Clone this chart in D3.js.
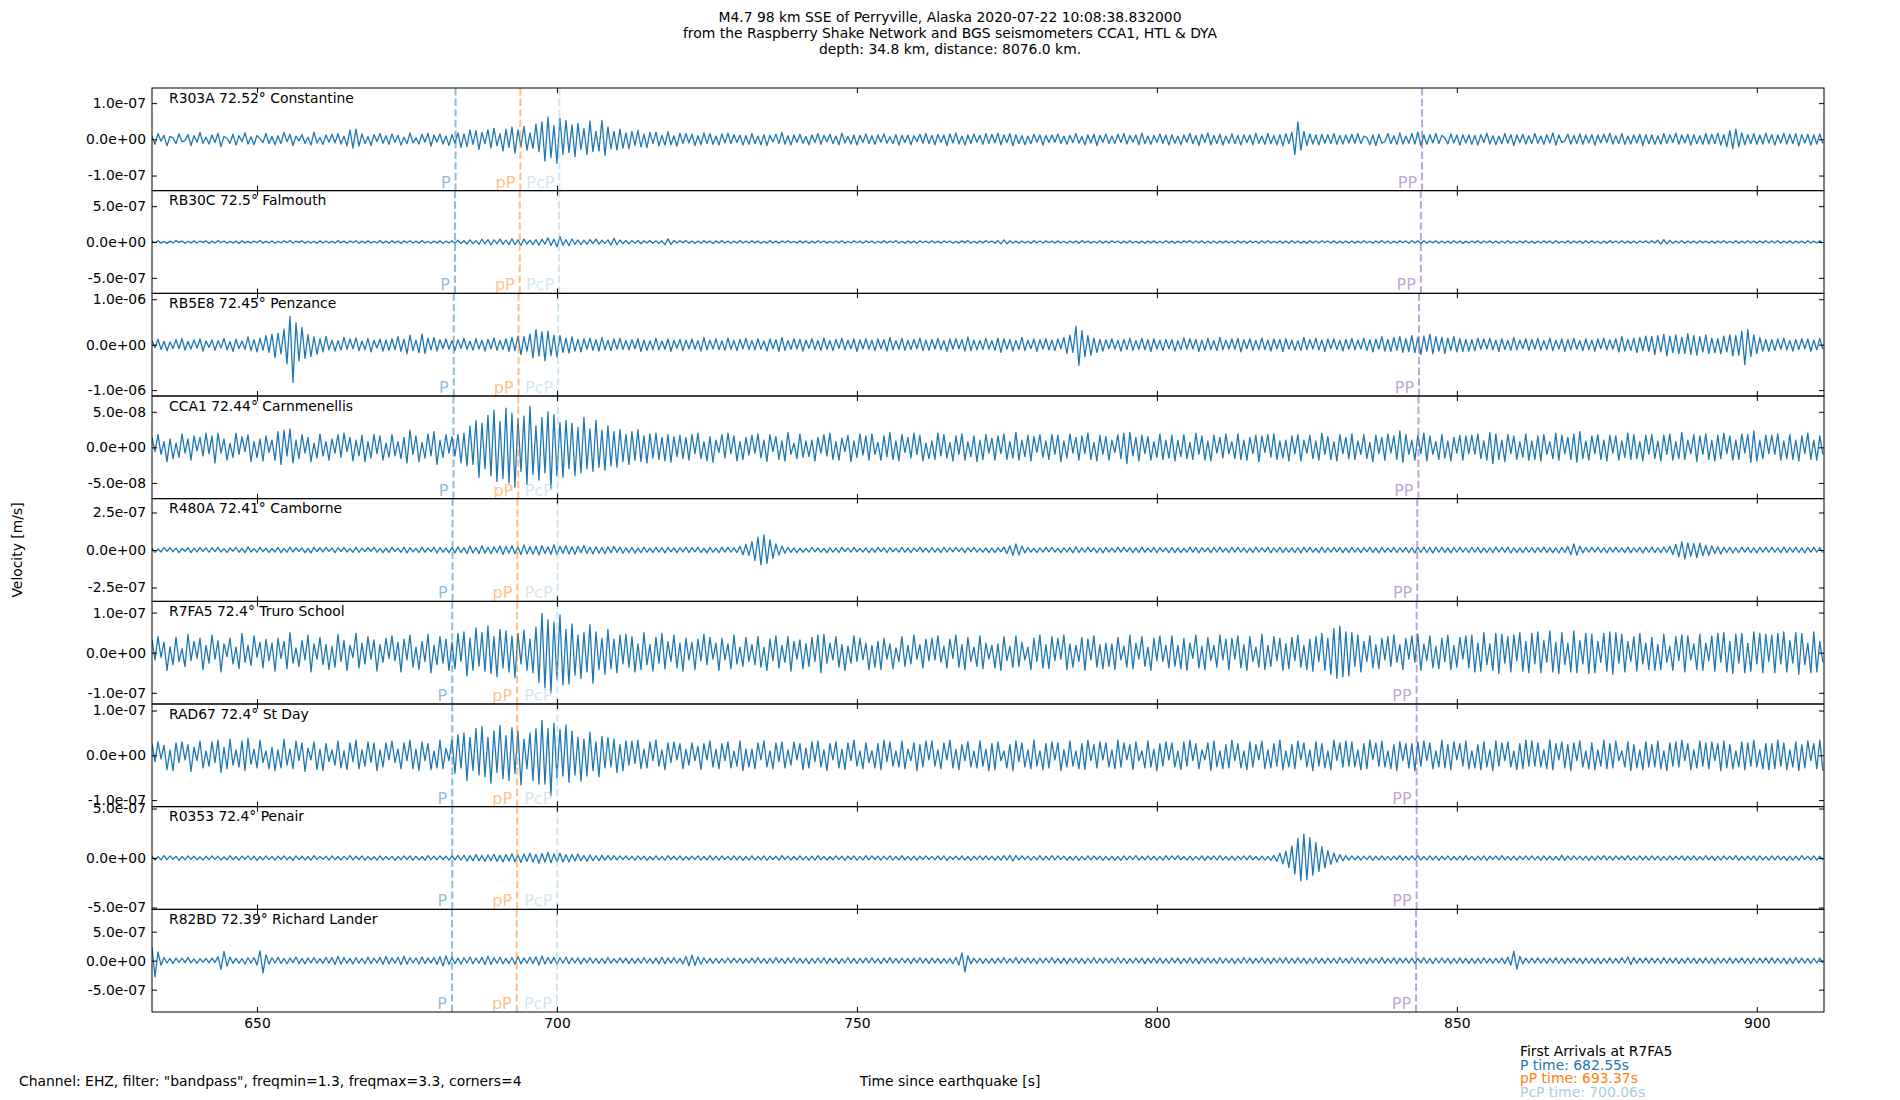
<!DOCTYPE html>
<html lang="en">
<head>
<meta charset="utf-8"/>
<title>Seismograms M4.7 Perryville</title>
<script src="https://d3js.org/d3.v7.min.js"></script>
<style>
  body { margin: 0; background: #fff; }
  text { font-family: "DejaVu Sans", sans-serif; }
</style>
</head>
<body>
<svg id="chart"></svg>
<script>
  // stations, top to bottom
  const stations = ["R303A", "RB30C", "RB5E8", "CCA1", "R480A", "R7FA5", "RAD67", "R0353", "R82BD"];
  const distances = ["72.52", "72.5", "72.45", "72.44", "72.41", "72.4", "72.4", "72.4", "72.39"];
  const places = ["Constantine", "Falmouth", "Penzance", "Carnmenellis", "Camborne", "Truro School", "St Day", "Penair", "Richard Lander"];

  // y half-range per panel (m/s) and its tick values
  const yLimits = [1.418e-7, 7.16e-7, 1.13e-6, 7.22e-8, 3.42e-7, 1.28e-7, 1.146e-7, 5.19e-7, 8.85e-7];
  const yTicks = [
    [-1e-7, 0, 1e-7], [-5e-7, 0, 5e-7], [-1e-6, 0, 1e-6], [-5e-8, 0, 5e-8], [-2.5e-7, 0, 2.5e-7],
    [-1e-7, 0, 1e-7], [-1e-7, 0, 1e-7], [-5e-7, 0, 5e-7], [-5e-7, 0, 5e-7]
  ];
  const xLimits = [632.5, 911.2];
  const xTicks = [650, 700, 750, 800, 850, 900];

  // arrival times (s) per station
  const pTimes   = [683.1, 683.0, 682.8, 682.75, 682.6, 682.55, 682.55, 682.55, 682.5];
  const pPTimes  = [693.9, 693.8, 693.6, 693.55, 693.4, 693.37, 693.37, 693.37, 693.3];
  const pcpTimes = [700.4, 700.35, 700.2, 700.15, 700.1, 700.06, 700.06, 700.06, 700.0];
  const ppTimes  = [844.2, 844.0, 843.7, 843.6, 843.4, 843.3, 843.3, 843.3, 843.2];

  // traces: velocity in nm/s, one sample every 0.5 s from 632.5 s
  const traceStart = 632.5;
  const sampleInterval = 0.5;

  const traceR303A = [
    9,-14,16,-5,11,-18,8,4,-12,15,-7,-3,13,-17,10,-8,19,-11,6,-13,
    12,-9,17,-20,8,3,-11,14,-16,10,-6,18,-13,7,-15,11,2,-9,16,-12,
    8,-15,10,-12,19,-7,14,-17,9,-4,13,-11,6,-16,20,-10,5,-14,12,-8,
    14,-10,16,-13,9,-18,26,-24,28,-19,15,-12,8,-17,13,-6,16,-11,10,-14,
    15,-9,11,-16,6,-12,18,-10,4,-13,14,-8,17,-19,12,-7,15,-13,9,-17,
    13,-10,18,-22,15,-20,26,-14,24,-28,19,-12,27,-24,30,-18,16,-32,28,-22,
    34,-38,26,-20,36,-30,18,-25,42,-34,48,-60,62,-50,38,-66,58,-42,52,-36,
    40,-48,44,-28,30,-42,50,-34,22,-32,52,-44,34,-26,22,-30,28,-24,18,-26,
    22,-17,25,-21,14,-23,19,-12,20,-18,11,-16,21,-15,10,-19,17,-12,16,-10,
    14,-17,10,-15,18,-12,16,-14,9,-16,15,-10,17,-12,13,-9,12,-16,10,-14,
    16,-12,9,-15,13,-17,11,-7,14,-12,19,-13,10,-16,12,-9,14,-11,8,-15,
    12,-9,16,-14,11,-7,14,-12,9,-15,17,-10,8,-13,12,-16,11,-9,15,-12,
    10,-14,12,-8,15,-11,7,-12,13,-16,11,-9,12,-15,10,-6,14,-11,16,-12,
    11,-15,14,-9,12,-17,15,-10,18,-13,9,-16,12,-11,15,-8,11,-14,16,-12,
    14,-10,17,-15,12,-9,16,-18,13,-12,10,-15,9,-12,14,-8,12,-16,11,-9,
    12,-8,15,-12,9,-14,11,-9,16,-11,8,-15,12,-10,14,-17,11,-8,15,-12,
    9,-12,14,-9,16,-13,11,-8,12,-15,17,-12,9,-14,11,-9,15,-11,12,-16,
    13,-11,9,-15,12,-8,16,-12,11,-17,14,-9,18,-15,11,-12,14,-16,9,-11,
    15,-12,11,-16,13,-9,12,-15,17,-11,9,-14,16,-12,11,-15,13,-18,16,-12,
    20,-42,48,-30,22,-17,15,-13,12,-16,14,-11,13,-12,16,-14,11,-13,12,-10,
    14,-11,16,-12,9,5,-15,12,-17,14,-11,-6,16,-12,10,-14,18,-13,9,-11,
    16,-13,20,-17,12,-14,13,-10,16,-12,11,4,-13,15,-10,12,-16,13,-10,12,
    -14,11,-16,13,-9,17,-13,10,-15,9,-12,16,-11,13,-17,12,-9,14,-13,10,
    -12,16,-11,9,-14,13,-10,18,-16,12,-9,-4,14,-13,11,-12,15,-14,12,-10,
    13,-16,12,-10,14,-9,17,-13,10,-12,16,-14,9,-13,12,-10,14,-17,13,-12,
    12,-14,10,-13,16,-12,13,-9,17,-14,12,-10,14,-16,13,-12,10,-14,16,-13,
    14,-12,17,-16,13,-20,24,-26,28,-21,18,-15,13,-12,16,-14,12,-13,17,-10,
    13,-16,12,-10,17,-13,14,-12,16,-18,13,-10,14,-16,12,-13,15,-12
  ];

  const traceRB30C = [
    14,-10,18,-15,8,-19,12,-13,20,-9,15,-17,10,-12,18,-14,13,-8,16,-20,
    12,-15,19,-10,13,-17,9,-13,15,-20,17,-12,8,-15,13,-10,20,-16,12,-14,
    15,-18,10,-13,17,-11,20,-15,13,-9,18,-16,11,-14,10,-19,16,-13,15,-12,
    10,-15,20,-13,12,-17,15,-10,18,-19,13,-12,16,-15,10,-13,21,-16,12,-18,
    16,-12,13,-19,15,-10,18,-15,12,-16,20,-13,10,-18,15,-12,16,-21,13,-15,
    18,-16,24,-21,17,-27,30,-22,19,-32,38,-26,34,-42,31,-24,40,-34,28,-37,
    46,-38,30,-48,40,-28,25,-36,33,-44,38,-30,58,-50,40,-66,74,-45,35,-52,
    42,-32,28,-38,25,-30,35,-22,40,-32,25,-20,30,-46,52,-38,28,-22,20,-25,
    22,-17,20,-25,17,-14,21,-18,16,-20,17,-38,44,-34,22,-15,17,-12,20,-16,
    15,-19,13,-16,18,-12,15,-20,16,-13,19,-15,12,-18,13,-16,20,-15,12,-14,
    17,-12,14,-18,11,-15,19,-13,12,-16,15,-11,18,-13,10,-15,16,-12,14,-18,
    12,-15,18,-11,14,-16,10,-14,15,-12,18,-15,11,-13,16,-10,12,-18,15,-11,
    14,-18,11,-12,16,-15,12,-10,18,-14,11,-16,15,-12,13,-19,16,-11,12,-15,
    18,-13,12,-16,15,-11,14,-18,10,-15,16,-12,19,-14,11,-16,15,-12,18,-10,
    13,-16,20,-26,30,-24,18,-15,12,-18,15,-13,11,-16,18,-12,14,-15,16,-11,
    12,-15,16,-13,11,-18,15,-12,14,-16,19,-11,12,-15,10,-14,18,-16,15,-12,
    16,-11,14,-18,12,-15,18,-13,11,-16,15,-19,14,-12,16,-15,11,-14,18,-12,
    15,-18,12,-14,16,-11,19,-15,14,-12,18,-16,11,-15,14,-18,15,-12,16,-13,
    11,-15,18,-12,14,-16,15,-11,12,-18,16,-14,19,-15,11,-12,15,-16,14,-18,
    18,-14,15,-16,12,-19,16,-12,14,-15,18,-11,15,-14,16,-18,12,-15,14,-16,
    14,-16,12,-15,18,-14,11,-16,15,-12,19,-15,14,-18,12,-14,16,-11,15,-18,
    19,-15,16,-20,18,-14,15,-12,16,-18,14,-15,12,-16,18,-14,15,-19,12,-15,
    15,-12,18,-16,14,-11,16,-15,12,-18,15,-14,19,-16,11,-15,14,-12,18,-14,
    12,-18,15,-14,16,-12,14,-19,18,-15,11,-14,16,-18,15,-12,14,-16,19,-15,
    16,-14,11,-18,15,-16,19,-12,14,-15,18,-14,12,-16,15,-18,14,-11,16,-15,
    18,-15,24,-30,33,-27,22,-18,15,-14,18,-16,12,-15,14,-18,16,-12,15,-14,
    14,-16,15,-12,18,-15,11,-14,16,-18,12,-15,19,-14,15,-16,14,-12,18,-15,
    15,-14,18,-16,12,-15,16,-18,14,-12,15,-16,19,-14,12,-15,16,-14
  ];

  const traceRB5E8 = [
    90,-70,120,-105,75,-135,60,-85,110,-90,140,-120,70,-95,105,-75,125,-140,80,-60,
    105,-125,90,-75,135,-110,65,-145,120,-90,80,-105,170,-130,110,-160,140,-120,200,-170,
    230,-280,250,-200,340,-420,620,-830,480,-360,380,-300,220,-260,170,-210,130,-160,180,-115,
    100,-140,90,-120,160,-100,125,-90,150,-130,80,-110,135,-160,95,-75,120,-140,100,-125,
    130,-110,175,-145,120,-200,210,-130,100,-175,230,-190,145,-115,160,-140,110,-90,125,-100,
    90,-125,110,-80,140,-100,75,-120,130,-95,100,-140,120,-90,150,-125,95,-110,130,-145,
    160,-130,190,-220,175,-145,230,-290,330,-250,280,-350,300,-240,210,-270,200,-170,145,-185,
    170,-140,115,-160,130,-100,145,-125,110,-140,160,-115,95,-130,125,-100,140,-110,90,-115,
    110,-90,130,-150,100,-125,90,-110,140,-115,80,-100,125,-145,95,-80,115,-130,100,-90,
    125,-100,90,-140,160,-115,100,-95,130,-110,80,-125,145,-100,95,-130,115,-90,140,-110,
    95,-115,130,-100,80,-140,125,-90,110,-145,160,-125,90,-100,130,-95,115,-140,100,-80,
    130,-110,90,-125,145,-100,95,-130,115,-80,140,-115,100,-90,125,-150,110,-95,130,-100,
    100,-130,125,-90,110,-140,160,-115,90,-100,140,-125,95,-110,115,-90,145,-130,100,-125,
    115,-95,140,-110,90,-145,125,-100,130,-90,110,-140,170,-130,100,-115,95,-110,140,-100,
    90,-125,145,-170,130,-100,115,-140,95,-110,160,-130,100,-90,125,-145,110,-95,130,-115,
    100,-130,125,-90,160,-190,210,-170,400,-450,310,-260,200,-230,145,-170,115,-140,110,-90,
    130,-100,95,-140,115,-110,145,-125,90,-100,140,-115,110,-150,125,-95,100,-130,115,-90,
    110,-140,90,-115,150,-100,130,-95,115,-145,100,-125,140,-110,90,-130,160,-115,100,-95,
    125,-100,140,-160,110,-90,130,-125,95,-115,145,-110,100,-140,125,-90,115,-150,130,-100,
    100,-125,90,-130,160,-110,115,-95,140,-115,100,-145,125,-90,130,-110,95,-140,115,-100,
    140,-115,100,-95,145,-130,110,-160,125,-100,175,-140,115,-145,160,-125,185,-170,130,-150,
    200,-175,160,-215,190,-145,230,-200,175,-140,160,-190,145,-125,175,-160,130,-145,115,-140,
    110,-130,145,-100,125,-95,140,-115,100,-145,130,-110,95,-125,160,-115,100,-90,130,-125,
    115,-100,140,-125,90,-110,145,-130,100,-95,125,-145,110,-115,140,-100,90,-130,125,-110,
    100,-140,125,-90,145,-115,110,-100,130,-160,175,-140,115,-125,145,-175,160,-130,190,-145,
    175,-215,200,-160,230,-245,190,-175,215,-200,160,-190,245,-215,200,-230,175,-160,215,-190,
    145,-175,130,-200,190,-160,215,-245,200,-230,300,-440,330,-260,215,-190,160,-140,115,-145,
    110,-130,125,-100,145,-115,95,-140,115,-110,130,-90,125,-145,100,-115,140,-100
  ];

  const traceCCA1 = [
    14,-6,18,-10,8,-20,12,-16,6,-14,19,-8,12,-18,16,-5,14,-12,20,-9,
    16,-22,20,-8,12,-18,6,-14,20,-10,15,-6,18,-20,8,-14,12,-19,16,-7,
    10,-18,22,-24,24,-12,26,-22,10,-16,18,-8,14,-20,6,-15,19,-12,8,-18,
    12,-8,18,-14,20,-6,14,-19,10,-12,17,-20,8,-15,18,-9,16,-18,6,-14,
    18,-12,8,-16,14,-22,24,-10,16,-20,7,-15,19,-12,22,-24,10,-14,18,-8,
    15,-12,18,-22,20,-26,30,-24,38,-42,34,-30,45,-40,52,-48,36,-44,55,-50,
    48,-56,40,-34,44,-52,58,-38,30,-46,42,-36,50,-58,46,-40,35,-42,38,-30,
    34,-40,28,-36,42,-30,26,-34,38,-28,24,-32,30,-26,22,-28,25,-20,18,-24,
    22,-18,25,-20,16,-22,19,-15,20,-17,14,-19,18,-21,15,-13,17,-16,14,-18,
    18,-9,20,-16,8,-19,15,-21,10,-7,18,-15,20,-9,16,-19,8,-17,14,-11,
    17,-8,19,-15,10,-20,18,-6,15,-17,9,-19,21,-10,6,-16,19,-14,9,-13,
    10,-19,14,-8,18,-12,20,-17,8,-18,13,-6,17,-20,9,-14,19,-11,16,-18,
    19,-10,7,-18,16,-13,21,-17,9,-19,18,-7,14,-15,20,-10,17,-19,6,-16,
    9,-17,20,-12,18,-15,7,-19,16,-10,19,-18,8,-13,16,-20,10,-17,18,-8,
    13,-18,16,-9,19,-17,8,-15,21,-18,10,-13,17,-19,15,-7,18,-14,9,-17,
    18,-10,17,-20,9,-15,19,-8,14,-18,16,-9,20,-17,7,-19,17,-10,15,-18,
    10,-7,18,-16,20,-23,21,-12,14,-19,17,-9,15,-18,8,-14,19,-17,10,-15,
    17,-19,10,-13,18,-16,7,-17,20,-10,16,-18,9,-19,17,-8,14,-15,19,-9,
    8,-16,19,-17,10,-18,14,-9,17,-20,16,-7,18,-14,19,-17,9,-15,10,-19,
    16,-9,18,-19,10,-8,17,-16,9,-18,20,-10,15,-17,8,-19,18,-9,14,-16,
    19,-17,9,-10,18,-16,7,-20,17,-9,14,-18,19,-8,16,-17,23,-21,18,-10,
    10,-18,17,-9,20,-19,16,-10,8,-17,18,-15,9,-19,14,-8,17,-18,16,-9,
    17,-10,19,-16,9,-18,21,-23,19,-17,10,-20,18,-9,16,-17,8,-14,19,-18,
    9,-17,16,-19,18,-10,8,-16,20,-18,17,-9,14,-17,19,-21,22,-16,9,-18,
    16,-9,18,-17,10,-19,17,-8,16,-18,9,-14,20,-17,18,-16,8,-19,17,-10,
    18,-16,9,-19,17,-10,19,-18,8,-16,21,-17,10,-9,18,-20,16,-10,19,-17,
    10,-19,17,-16,20,-9,16,-18,10,-17,19,-8,18,-21,23,-19,10,-16,17,-9,
    17,-10,19,-18,9,-16,18,-17,10,-19,16,-9,20,-17,10,-18,16,-10
  ];

  const traceR480A = [
    12,-16,8,-14,17,-9,15,-12,13,-17,10,-8,15,-18,12,-13,16,-9,14,-15,
    15,-11,18,-13,9,-16,14,-8,17,-15,11,-18,19,-13,9,-15,18,-11,13,-16,
    10,-13,17,-18,11,-15,19,-13,15,-9,13,-17,11,-19,18,-11,15,-13,17,-9,
    13,-18,15,-11,17,-13,9,-15,18,-16,13,-11,15,-9,19,-15,11,-18,13,-16,
    17,-11,13,-15,18,-19,15,-13,11,-17,19,-15,13,-11,18,-20,17,-15,13,-18,
    15,-19,22,-17,16,-23,26,-20,17,-24,28,-21,18,-25,22,-17,27,-30,24,-21,
    28,-25,20,-30,34,-26,22,-29,25,-33,30,-23,21,-28,36,-30,25,-22,29,-26,
    22,-28,25,-19,30,-23,18,-26,22,-21,17,-25,21,-18,24,-16,19,-22,15,-18,
    17,-21,13,-18,19,-15,12,-17,18,-14,15,-19,17,-12,14,-18,15,-13,19,-17,
    15,-12,18,-17,13,-19,17,-15,12,-18,19,-14,17,-15,14,-17,24,-32,38,-36,
    55,-70,85,-98,100,-88,68,-56,40,-34,26,-22,18,-16,14,-18,12,-15,11,-14,
    17,-12,14,-15,11,-18,15,-14,12,-17,18,-11,14,-15,17,-12,11,-14,15,-17,
    12,-15,17,-11,14,-18,15,-12,11,-14,17,-15,12,-17,14,-11,18,-14,12,-15,
    15,-14,12,-17,18,-15,14,-12,17,-11,14,-18,15,-12,17,-14,11,-15,14,-17,
    14,-17,15,-12,19,-24,28,-36,40,-34,26,-20,16,-14,12,-17,15,-14,18,-12,
    17,-14,12,-18,15,-14,17,-19,22,-17,14,-15,18,-12,14,-17,15,-19,17,-14,
    12,-15,18,-14,17,-12,15,-18,14,-17,19,-15,12,-14,17,-18,15,-12,14,-17,
    15,-18,14,-17,12,-15,18,-14,17,-19,15,-12,14,-18,17,-15,19,-14,12,-17,
    18,-14,17,-15,14,-18,12,-17,19,-15,14,-12,17,-18,15,-14,18,-17,14,-15,
    14,-17,15,-19,18,-14,17,-15,12,-18,19,-17,14,-15,17,-12,15,-18,14,-17,
    17,-15,14,-18,15,-12,18,-17,14,-19,17,-15,12,-14,18,-17,15,-14,17,-18,
    15,-19,18,-17,20,-18,17,-21,19,-15,18,-17,14,-19,17,-15,18,-14,15,-17,
    18,-15,17,-19,14,-17,15,-18,19,-14,17,-15,18,-20,15,-17,14,-18,17,-15,
    14,-18,17,-15,19,-17,14,-18,15,-20,18,-17,24,-32,40,-34,26,-19,17,-15,
    17,-14,18,-17,15,-19,17,-14,18,-15,14,-17,19,-18,15,-14,17,-19,18,-15,
    19,-17,15,-18,20,-17,24,-30,38,-46,54,-60,48,-40,44,-50,46,-38,32,-35,
    28,-24,21,-26,19,-17,18,-20,15,-17,19,-14,17,-18,15,-19,17,-14,18,-15,
    17,-15,14,-18,19,-17,15,-14,18,-17,14,-19,17,-15,18,-14,15,-17
  ];

  const traceR7FA5 = [
    32,-18,40,-12,26,-44,15,-30,38,-22,10,-35,46,-20,28,-14,36,-42,18,-26,
    44,-16,30,-48,22,-10,36,-28,14,-40,48,-24,18,-32,42,-12,26,-38,34,-20,
    24,-46,36,-14,28,-40,50,-26,12,-34,30,-18,44,-48,22,-16,38,-30,20,-42,
    16,-36,46,-22,30,-44,18,-12,48,-38,24,-28,40,-16,32,-46,20,-24,36,-14,
    42,-20,26,-48,34,-18,44,-36,14,-42,28,-22,46,-50,18,-30,40,-26,34,-44,
    26,-40,48,-22,52,-58,36,-44,62,-34,50,-46,66,-52,40,-60,58,-38,54,-48,
    42,-62,48,-28,56,-44,34,-50,64,-74,98,-88,82,-100,76,-66,94,-80,58,-78,
    72,-56,44,-64,50,-48,70,-76,52,-42,36,-54,58,-40,34,-50,44,-28,46,-36,
    40,-48,22,-42,50,-30,20,-46,38,-26,48,-40,28,-22,44,-38,24,-46,36,-18,
    26,-42,34,-20,46,-30,38,-16,24,-44,36,-18,22,-40,44,-28,14,-34,38,-22,
    20,-30,40,-36,14,-44,34,-20,42,-38,18,-24,40,-46,28,-16,32,-40,22,-34,
    38,-22,44,-50,46,-26,24,-18,40,-36,20,-44,16,-26,42,-22,36,-18,24,-42,
    18,-36,28,-42,36,-16,22,-40,12,-22,40,-34,18,-28,44,-16,20,-38,34,-20,
    36,-18,42,-24,16,-38,34,-14,44,-36,20,-42,38,-22,14,-34,42,-40,24,-16,
    18,-38,22,-44,40,-20,16,-36,42,-34,26,-18,14,-42,36,-22,44,-38,20,-40,
    40,-20,36,-16,44,-42,22,-36,18,-22,38,-44,34,-18,42,-36,20,-40,24,-34,
    22,-42,38,-18,16,-36,44,-40,24,-16,40,-34,14,-44,36,-20,42,-22,18,-38,
    42,-34,18,-40,36,-44,24,-14,44,-38,16,-42,38,-20,18,-36,44,-18,34,-42,
    36,-16,42,-38,20,-44,40,-22,14,-36,46,-42,18,-34,40,-20,36,-44,22,-40,
    38,-20,44,-36,18,-42,34,-46,40,-22,48,-44,36,-54,60,-64,66,-60,52,-58,
    50,-34,44,-48,28,-22,42,-38,20,-40,36,-18,40,-34,44,-24,20,-42,36,-16,
    42,-24,46,-44,22,-20,42,-38,16,-40,36,-22,44,-42,18,-36,38,-16,42,-38,
    44,-48,24,-46,50,-30,22,-44,48,-52,46,-26,40,-48,44,-20,50,-46,28,-50,
    48,-28,52,-50,30,-24,54,-48,26,-52,50,-30,24,-48,54,-50,30,-28,48,-52,
    46,-50,28,-24,48,-46,52,-54,50,-26,46,-48,28,-22,40,-46,48,-28,24,-42,
    38,-44,20,-42,46,-24,16,-44,40,-20,44,-48,42,-18,22,-42,46,-44,24,-20,
    42,-46,48,-24,50,-48,28,-52,46,-26,48,-50,24,-46,52,-28,48,-50,46,-22,
    44,-50,48,-28,52,-48,30,-26,50,-54,48,-30,24,-50,52,-48,28,-24
  ];

  const traceRAD67 = [
    26,-14,30,-8,22,-32,12,-34,28,-16,30,-10,24,-36,18,-12,32,-28,10,-24,
    30,-16,34,-38,18,-30,36,-22,12,-26,32,-34,38,-20,14,-28,34,-16,10,-30,
    18,-34,12,-28,36,-22,14,-30,32,-12,28,-36,16,-10,30,-32,14,-34,26,-14,
    12,-22,32,-28,10,-32,28,-14,34,-30,12,-24,30,-16,28,-34,12,-26,28,-10,
    32,-16,14,-30,28,-12,34,-30,14,-34,30,-12,26,-32,10,-28,34,-30,16,-12,
    34,-40,46,-28,50,-56,40,-34,60,-44,64,-48,40,-62,54,-38,66,-52,44,-56,
    62,-40,54,-66,36,-30,50,-56,60,-64,78,-64,60,-90,72,-50,58,-46,68,-60,
    54,-44,40,-58,36,-46,52,-34,30,-48,42,-28,40,-26,36,-38,24,-34,32,-22,
    32,-18,34,-30,14,-28,30,-12,34,-24,12,-32,28,-16,30,-10,26,-30,14,-22,
    28,-12,20,-32,26,-10,32,-26,14,-30,26,-12,30,-28,10,-24,32,-34,14,-26,
    14,-30,28,-10,32,-26,10,-30,28,-14,30,-28,12,-22,30,-10,26,-32,16,-28,
    30,-14,32,-26,12,-34,26,-10,30,-28,14,-32,28,-12,34,-24,10,-30,28,-16,
    10,-28,26,-32,34,-14,30,-24,10,-26,32,-30,14,-12,28,-34,24,-26,32,-10,
    32,-24,12,-30,28,-10,34,-28,14,-32,24,-12,30,-26,10,-28,32,-24,14,-34,
    26,-32,30,-12,10,-28,24,-34,32,-14,28,-26,12,-30,34,-24,10,-32,26,-28,
    30,-10,28,-34,12,-26,32,-24,10,-30,26,-32,34,-12,24,-28,30,-10,28,-26,
    12,-30,34,-26,28,-10,24,-32,30,-12,10,-28,32,-26,14,-34,26,-24,30,-10,
    28,-26,10,-32,30,-24,34,-12,26,-30,12,-10,28,-34,32,-26,10,-30,24,-28,
    34,-12,26,-28,10,-32,30,-26,24,-10,32,-30,12,-28,26,-24,34,-32,10,-26,
    24,-30,32,-10,28,-26,12,-34,30,-24,26,-28,10,-32,34,-12,28,-26,32,-24,
    30,-26,12,-32,26,-30,34,-10,28,-24,32,-26,10,-30,24,-34,30,-12,26,-28,
    26,-34,30,-24,32,-12,28,-30,10,-26,34,-28,24,-32,30,-10,26,-24,32,-30,
    10,-28,24,-32,30,-26,12,-34,32,-24,28,-12,30,-26,10,-32,26,-30,34,-24,
    32,-24,28,-26,12,-30,34,-32,26,-10,30,-28,24,-34,28,-12,32,-26,10,-30,
    28,-32,12,-24,34,-30,26,-28,32,-12,10,-26,30,-34,24,-28,12,-32,30,-26,
    24,-26,32,-30,10,-34,28,-24,30,-26,34,-12,26,-32,12,-28,32,-24,28,-30,
    30,-12,26,-34,32,-28,24,-30,10,-26,30,-32,28,-24,34,-26,12,-30,26,-32,
    26,-30,34,-24,28,-32,12,-26,30,-34,24,-28,32,-12,26,-30,34,-34
  ];

  const traceR0353 = [
    18,-22,14,-19,24,-16,21,-13,18,-23,16,-19,22,-14,19,-17,13,-21,18,-16,
    21,-14,18,-22,13,-19,24,-17,15,-21,19,-13,22,-16,18,-24,15,-19,21,-17,
    16,-21,19,-15,22,-18,13,-24,21,-16,18,-19,15,-22,24,-17,16,-13,19,-21,
    22,-17,15,-21,19,-16,24,-19,18,-15,21,-22,16,-18,13,-21,22,-19,15,-16,
    19,-24,16,-18,21,-15,22,-21,18,-19,15,-22,24,-16,19,-18,21,-15,18,-22,
    20,-18,26,-23,28,-31,24,-27,34,-28,26,-35,31,-26,37,-34,28,-40,36,-31,
    42,-37,31,-45,40,-34,49,-42,37,-53,45,-40,56,-49,42,-37,48,-42,34,-40,
    36,-31,40,-28,26,-34,31,-27,23,-28,26,-22,24,-20,23,-19,22,-17,20,-19,
    18,-22,21,-16,19,-24,15,-18,22,-19,16,-21,24,-15,18,-19,21,-22,16,-18,
    19,-16,22,-21,15,-18,24,-19,18,-22,21,-15,16,-19,22,-18,19,-24,15,-21,
    22,-19,16,-18,21,-24,19,-15,18,-21,24,-16,19,-22,15,-18,21,-19,16,-22,
    18,-21,24,-19,16,-22,15,-18,21,-16,19,-24,18,-15,22,-21,16,-19,24,-18,
    21,-15,19,-22,18,-16,22,-21,15,-19,24,-18,16,-21,19,-22,18,-16,21,-15,
    16,-19,22,-18,21,-24,16,-15,19,-18,22,-21,15,-24,18,-16,21,-19,22,-18,
    19,-22,18,-21,24,-19,27,-30,24,-18,21,-16,19,-22,16,-18,24,-21,18,-19,
    24,-18,21,-16,19,-22,15,-21,18,-24,16,-19,22,-18,21,-15,19,-24,16,-21,
    18,-21,16,-24,22,-18,19,-16,24,-21,15,-18,21,-19,18,-22,16,-21,24,-18,
    21,-16,24,-19,15,-22,18,-21,16,-18,22,-24,19,-15,21,-18,24,-19,15,-22,
    19,-22,18,-16,21,-19,24,-18,15,-21,19,-22,16,-24,26,-34,48,-60,70,-95,
    120,-160,200,-230,240,-220,205,-175,155,-135,115,-100,75,-64,50,-42,34,-28,24,-21,
    22,-19,18,-22,19,-16,21,-24,18,-19,22,-18,16,-21,19,-15,24,-22,18,-19,
    21,-18,24,-21,16,-19,22,-18,19,-24,18,-16,21,-22,15,-19,18,-21,24,-18,
    16,-21,19,-18,22,-24,18,-15,21,-19,24,-18,16,-22,19,-21,18,-16,22,-19,
    22,-19,16,-24,21,-18,19,-22,15,-21,26,-24,21,-18,22,-16,19,-21,18,-24,
    18,-22,21,-16,24,-19,18,-21,22,-15,19,-18,24,-22,16,-19,21,-18,19,-22,
    21,-18,19,-24,16,-21,22,-19,18,-16,21,-24,19,-18,22,-21,15,-19,24,-18,
    19,-24,18,-21,22,-16,19,-18,24,-22,16,-21,18,-19,21,-24,22,-18,16,-21,
    22,-18,21,-19,16,-24,19,-21,18,-22,24,-16,19,-18,21,-22,18,-19
  ];

  const traceR82BD = [
    230,-280,150,-80,55,-40,38,-50,44,-30,42,-34,52,-38,30,-45,36,-28,40,-38,
    45,-32,70,-150,160,-95,62,-48,40,-44,36,-58,50,-40,55,-75,170,-210,100,-60,
    50,-40,56,-46,38,-54,44,-35,62,-50,40,-56,46,-38,54,-44,35,-48,58,-44,
    52,-66,76,-60,54,-46,40,-58,50,-44,38,-54,60,-50,44,-40,56,-64,72,-56,
    48,-44,58,-70,76,-60,50,-40,46,-56,64,-50,44,-38,54,-62,68,-95,84,-64,
    56,-50,44,-58,50,-40,62,-54,46,-44,56,-66,78,-64,50,-44,58,-54,40,-50,
    54,-62,72,-56,48,-44,58,-50,66,-74,80,-60,54,-46,56,-62,50,-44,60,-54,
    46,-40,50,-58,44,-38,50,-44,40,-48,38,-46,54,-44,35,-40,48,-38,44,-50,
    40,-46,38,-44,50,-40,35,-48,44,-52,58,-54,44,-38,50,-44,40,-56,74,-88,
    95,-80,64,-56,50,-44,40,-48,38,-44,35,-40,46,-38,44,-35,40,-46,36,-40,
    44,-38,50,-40,35,-46,40,-44,52,-36,38,-48,44,-35,50,-42,38,-45,40,-50,
    38,-44,46,-40,50,-48,40,-35,44,-52,36,-40,50,-44,38,-46,42,-38,48,-40,
    48,-40,36,-50,44,-38,52,-45,38,-42,46,-35,40,-50,44,-38,50,-44,38,-46,
    44,-38,40,-46,35,-44,38,-50,56,-75,135,-195,85,-54,44,-38,40,-46,36,-44,
    40,-48,44,-38,50,-44,36,-40,52,-46,42,-38,48,-44,38,-50,45,-40,44,-36,
    50,-42,38,-46,44,-52,40,-36,48,-44,38,-50,42,-40,50,-45,38,-44,46,-38,
    38,-45,50,-40,42,-48,35,-44,46,-38,44,-50,40,-38,48,-42,45,-46,36,-44,
    45,-38,44,-50,38,-42,48,-44,40,-52,46,-38,44,-40,36,-48,50,-44,42,-38,
    42,-50,38,-44,50,-40,45,-46,38,-36,48,-44,40,-50,44,-38,46,-42,50,-45,
    38,-44,48,-40,44,-50,38,-45,50,-42,40,-48,45,-38,42,-46,50,-40,38,-44,
    50,-40,44,-46,38,-50,46,-38,42,-45,52,-44,36,-40,48,-50,44,-38,45,-42,
    44,-48,40,-38,50,-44,38,-50,45,-40,46,-38,42,-50,38,-45,48,-42,40,-46,
    40,-46,38,-44,48,-40,35,-44,40,-38,46,-50,60,-78,165,-145,75,-54,44,-40,
    45,-40,50,-44,38,-46,42,-38,50,-45,40,-50,44,-38,48,-42,38,-50,46,-44,
    40,-46,44,-50,38,-42,48,-45,38,-44,50,-40,62,-68,54,-46,44,-38,50,-42,
    46,-38,42,-48,50,-44,40,-38,45,-50,38,-44,48,-40,44,-46,38,-42,50,-45,
    42,-50,45,-40,38,-44,50,-46,40,-38,48,-44,42,-50,46,-40,44,-38,50,-42,
    48,-42,38,-45,44,-50,40,-46,50,-38,45,-44,38,-48,42,-40,46,-44
  ];

  const traces = [traceR303A, traceRB30C, traceRB5E8, traceCCA1, traceR480A,
                  traceR7FA5, traceRAD67, traceR0353, traceR82BD];

  const phaseNames = ["P", "pP", "PcP", "PP"];
  const phaseTimes = [pTimes, pPTimes, pcpTimes, ppTimes];
  const phaseColors = ["#1f77b4", "#ff7f0e", "#a6cee3", "#9467bd"];
  const phaseAlpha = [0.5, 0.5, 0.5, 0.6];

  const width = 1900;
  const height = 1100;
  const margin = {top: 88, right: 76, bottom: 88, left: 152};
  const panelH = (height - margin.top - margin.bottom) / stations.length;
  const plotW = width - margin.left - margin.right;

  const svg = d3.select("#chart")
    .attr("width", width)
    .attr("height", height);

  const x = d3.scaleLinear()
    .domain(xLimits)
    .range([margin.left, width - margin.right]);

  // 1.0e-07 style labels
  const sciFormat = (v) => {
    const s = v.toExponential(1);
    const [m, e] = s.split("e");
    return m + "e" + e[0] + e.slice(1).padStart(2, "0");
  };

  const styleAxis = (a) => {
    a.select(".domain").remove();
    a.selectAll(".tick line").attr("stroke", "#000").attr("stroke-width", 1);
    a.selectAll("text")
      .attr("fill", "#000")
      .style("font-family", "'DejaVu Sans', sans-serif")
      .style("font-size", "13.9px");
  };

  stations.forEach((st, i) => {
    const top = margin.top + i * panelH;
    const bottom = top + panelH;
    const y = d3.scaleLinear()
      .domain([-yLimits[i], yLimits[i]])
      .range([bottom, top]);

    svg.append("clipPath")
      .attr("id", "clip" + i)
      .append("rect")
      .attr("x", margin.left)
      .attr("y", top)
      .attr("width", plotW)
      .attr("height", panelH);

    const g = svg.append("g").attr("class", "panel");

    const line = d3.line()
      .x((d, j) => x(traceStart + j * sampleInterval))
      .y((d) => y(d * 1e-9));

    g.append("path")
      .datum(traces[i])
      .attr("clip-path", "url(#clip" + i + ")")
      .attr("fill", "none")
      .attr("stroke", "#1f77b4")
      .attr("stroke-width", 1.3)
      .attr("stroke-linejoin", "round")
      .attr("d", line);

    // arrival markers
    phaseNames.forEach((name, k) => {
      const px = x(phaseTimes[k][i]);
      g.append("line")
        .attr("x1", px).attr("x2", px)
        .attr("y1", top).attr("y2", bottom)
        .attr("stroke", phaseColors[k])
        .attr("stroke-opacity", phaseAlpha[k])
        .attr("stroke-width", 2)
        .attr("stroke-dasharray", "7.4,3.2");
      g.append("text")
        .attr("x", px - 5)
        .attr("y", bottom - 3)
        .attr("text-anchor", "end")
        .attr("fill", phaseColors[k])
        .attr("fill-opacity", phaseAlpha[k])
        .style("font-size", "16px")
        .text(name);
    });

    // station label
    g.append("text")
      .attr("x", margin.left + 17)
      .attr("y", top + 14.5)
      .style("font-size", "13.9px")
      .attr("fill", "#000")
      .text(st + " " + distances[i] + "\u00b0 " + places[i]);

    // axes, ticks pointing inward
    g.append("g")
      .attr("transform", "translate(" + margin.left + ",0)")
      .call(d3.axisLeft(y).tickValues(yTicks[i]).tickFormat(sciFormat)
        .tickSizeInner(-5).tickSizeOuter(0).tickPadding(6))
      .call(styleAxis);

    g.append("g")
      .attr("transform", "translate(" + (width - margin.right) + ",0)")
      .call(d3.axisRight(y).tickValues(yTicks[i]).tickFormat(() => "")
        .tickSizeInner(-5).tickSizeOuter(0))
      .call(styleAxis);

    g.append("g")
      .attr("transform", "translate(0," + top + ")")
      .call(d3.axisTop(x).tickValues(xTicks).tickFormat(() => "")
        .tickSizeInner(-5).tickSizeOuter(0))
      .call(styleAxis);

    const last = i === stations.length - 1;
    g.append("g")
      .attr("transform", "translate(0," + bottom + ")")
      .call(d3.axisBottom(x).tickValues(xTicks)
        .tickFormat(last ? d3.format("d") : () => "")
        .tickSizeInner(-5).tickSizeOuter(0).tickPadding(6))
      .call(styleAxis);

    g.append("rect")
      .attr("x", margin.left)
      .attr("y", top)
      .attr("width", plotW)
      .attr("height", panelH)
      .attr("fill", "none")
      .attr("stroke", "#000")
      .attr("stroke-width", 1);
  });

  // titles and notes
  const titleLines = [
    "M4.7 98 km SSE of Perryville, Alaska 2020-07-22 10:08:38.832000",
    "from the Raspberry Shake Network and BGS seismometers CCA1, HTL & DYA",
    "depth: 34.8 km, distance: 8076.0 km."
  ];
  svg.append("g").selectAll("text")
    .data(titleLines)
    .join("text")
    .attr("x", width / 2)
    .attr("y", (d, k) => 22 + k * 16)
    .attr("text-anchor", "middle")
    .style("font-size", "13.9px")
    .text((d) => d);

  svg.append("text")
    .attr("transform", "translate(17," + (margin.top + (height - margin.top - margin.bottom) / 2) + ") rotate(-90)")
    .attr("text-anchor", "middle")
    .attr("dy", "0.35em")
    .style("font-size", "13.9px")
    .text("Velocity [m/s]");

  svg.append("text")
    .attr("x", 19)
    .attr("y", 1086)
    .style("font-size", "13.9px")
    .text("Channel: EHZ, filter: \"bandpass\", freqmin=1.3, freqmax=3.3, corners=4");

  svg.append("text")
    .attr("x", width / 2)
    .attr("y", 1086)
    .attr("text-anchor", "middle")
    .style("font-size", "13.9px")
    .text("Time since earthquake [s]");

  const arrivalNotes = [
    {label: "First Arrivals at R7FA5", color: "#000"},
    {label: "P time: 682.55s", color: "#1f77b4"},
    {label: "pP time: 693.37s", color: "#ff7f0e"},
    {label: "PcP time: 700.06s", color: "#a6cee3"}
  ];
  svg.append("g").selectAll("text")
    .data(arrivalNotes)
    .join("text")
    .attr("x", 1520)
    .attr("y", (d, k) => 1056 + k * 13.7)
    .attr("fill", (d) => d.color)
    .style("font-size", "13.9px")
    .text((d) => d.label);
</script>
</body>
</html>
